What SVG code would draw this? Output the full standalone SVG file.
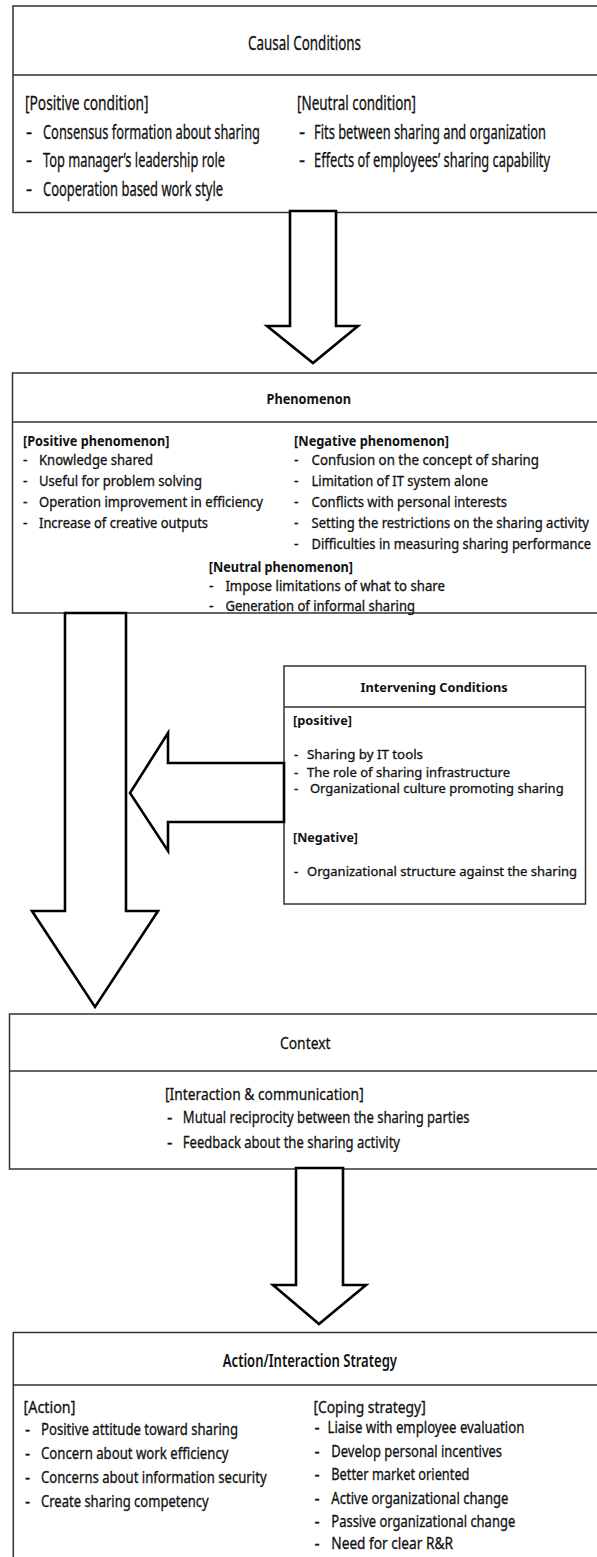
<svg xmlns="http://www.w3.org/2000/svg" width="597" height="1557" viewBox="0 0 597 1557">
<style>
text{font-family:"Noto Sans","Liberation Sans",sans-serif;fill:#111;stroke:#111;stroke-width:0.3}
.box{fill:#fff;stroke:#333;stroke-width:1.5}
.div{stroke:#333;stroke-width:1.5}
.arr{fill:#fff;stroke:#000;stroke-width:2.6;stroke-linejoin:miter}
.c{font-size:19px}
.p{font-size:14px}
.i{font-size:13px}
.x{font-size:17px}
.a{font-size:16px}
.b{font-weight:bold;stroke-width:0}
.sb{font-weight:600;stroke-width:0}
</style>
<rect width="597" height="1557" fill="#fff"/>
<g id="causal">
<rect class="box" x="13" y="6" width="600" height="206.5"/>
<line class="div" x1="13" y1="75" x2="597" y2="75"/>
<text class="c" x="248" y="50" textLength="113" lengthAdjust="spacingAndGlyphs">Causal Conditions</text>
<text class="c" x="25" y="110" textLength="123.5" lengthAdjust="spacingAndGlyphs">[Positive condition]</text>
<text class="c" x="26" y="138.5">-</text>
<text class="c" x="43" y="138.5" textLength="217" lengthAdjust="spacingAndGlyphs">Consensus formation about sharing</text>
<text class="c" x="26" y="167">-</text>
<text class="c" x="43" y="167" textLength="182" lengthAdjust="spacingAndGlyphs">Top manager’s leadership role</text>
<text class="c" x="26" y="195.5">-</text>
<text class="c" x="43" y="195.5" textLength="180" lengthAdjust="spacingAndGlyphs">Cooperation based work style</text>
<text class="c" x="297" y="110" textLength="119" lengthAdjust="spacingAndGlyphs">[Neutral condition]</text>
<text class="c" x="299" y="138.5">-</text>
<text class="c" x="314" y="138.5" textLength="232" lengthAdjust="spacingAndGlyphs">Fits  between sharing and organization</text>
<text class="c" x="299" y="167">-</text>
<text class="c" x="314" y="167" textLength="236" lengthAdjust="spacingAndGlyphs">Effects of employees’ sharing capability</text>
</g>
<g id="phenomenon">
<rect class="box" x="12.5" y="373" width="600" height="240"/>
<line class="div" x1="12.5" y1="422" x2="597" y2="422"/>
<text class="p b" x="266.6" y="404" textLength="84.4" lengthAdjust="spacingAndGlyphs">Phenomenon</text>
<text class="p b" x="23" y="446" textLength="146.5" lengthAdjust="spacingAndGlyphs">[Positive phenomenon]</text>
<text class="p" x="23" y="465">-</text>
<text class="p" x="39" y="465" textLength="114" lengthAdjust="spacingAndGlyphs">Knowledge shared</text>
<text class="p" x="23" y="486">-</text>
<text class="p" x="39" y="486" textLength="163" lengthAdjust="spacingAndGlyphs">Useful for problem solving</text>
<text class="p" x="23" y="507">-</text>
<text class="p" x="39" y="507" textLength="224" lengthAdjust="spacingAndGlyphs">Operation improvement in efficiency</text>
<text class="p" x="23" y="528">-</text>
<text class="p" x="39" y="528" textLength="169" lengthAdjust="spacingAndGlyphs">Increase of creative outputs</text>
<text class="p b" x="294" y="446" textLength="155" lengthAdjust="spacingAndGlyphs">[Negative phenomenon]</text>
<text class="p" x="294" y="465">-</text>
<text class="p" x="311.5" y="465" textLength="227.5" lengthAdjust="spacingAndGlyphs">Confusion on the concept of sharing</text>
<text class="p" x="294" y="486">-</text>
<text class="p" x="311.5" y="486" textLength="176.5" lengthAdjust="spacingAndGlyphs">Limitation  of IT system alone</text>
<text class="p" x="294" y="507">-</text>
<text class="p" x="311.5" y="507" textLength="195.5" lengthAdjust="spacingAndGlyphs">Conflicts with personal interests</text>
<text class="p" x="294" y="528">-</text>
<text class="p" x="311.5" y="528" textLength="277.5" lengthAdjust="spacingAndGlyphs">Setting the restrictions on the sharing activity</text>
<text class="p" x="294" y="549">-</text>
<text class="p" x="311.5" y="549" textLength="279.5" lengthAdjust="spacingAndGlyphs">Difficulties  in measuring sharing performance</text>
<text class="p b" x="208.7" y="572" textLength="144.3" lengthAdjust="spacingAndGlyphs">[Neutral phenomenon]</text>
<text class="p" x="209" y="591">-</text>
<text class="p" x="225.4" y="591" textLength="219.6" lengthAdjust="spacingAndGlyphs">Impose limitations  of what to share</text>
<text class="p" x="209" y="611">-</text>
<text class="p" x="225.4" y="611" textLength="189.6" lengthAdjust="spacingAndGlyphs">Generation of informal sharing</text>
</g>
<g id="intervening">
<rect class="box" x="284" y="666" width="301.5" height="238"/>
<line class="div" x1="284" y1="707" x2="585.5" y2="707"/>
<text class="i b" x="360.6" y="692" textLength="147" lengthAdjust="spacingAndGlyphs">Intervening Conditions</text>
<text class="i b" x="293" y="725" textLength="59" lengthAdjust="spacingAndGlyphs">[positive]</text>
<text class="i" x="294" y="759">-</text>
<text class="i" x="307" y="759" textLength="116" lengthAdjust="spacingAndGlyphs">Sharing by IT tools</text>
<text class="i" x="294" y="777">-</text>
<text class="i" x="307" y="777" textLength="203" lengthAdjust="spacingAndGlyphs">The role of sharing infrastructure</text>
<text class="i" x="294" y="793">-</text>
<text class="i" x="310" y="793" textLength="253.6" lengthAdjust="spacingAndGlyphs">Organizational culture promoting sharing</text>
<text class="i b" x="293" y="842" textLength="65" lengthAdjust="spacingAndGlyphs">[Negative]</text>
<text class="i" x="294" y="876">-</text>
<text class="i" x="307" y="876" textLength="270" lengthAdjust="spacingAndGlyphs">Organizational structure against the sharing</text>
</g>
<g id="context">
<rect class="box" x="9.5" y="1014" width="600" height="155"/>
<line class="div" x1="9.5" y1="1071" x2="597" y2="1071"/>
<text class="x" x="280" y="1049" textLength="50.5" lengthAdjust="spacingAndGlyphs">Context</text>
<text class="x" x="165" y="1100" textLength="198.7" lengthAdjust="spacingAndGlyphs">[Interaction &amp; communication]</text>
<text class="x" x="167" y="1123">-</text>
<text class="x" x="182.8" y="1123" textLength="286.7" lengthAdjust="spacingAndGlyphs">Mutual reciprocity between the sharing parties</text>
<text class="x" x="167" y="1148">-</text>
<text class="x" x="182.8" y="1148" textLength="217.2" lengthAdjust="spacingAndGlyphs">Feedback about the sharing activity</text>
</g>
<g id="action">
<rect class="box" x="13.3" y="1332.5" width="600" height="240"/>
<line class="div" x1="13.3" y1="1385" x2="597" y2="1385"/>
<text class="x sb" x="222.8" y="1367" textLength="174.2" lengthAdjust="spacingAndGlyphs">Action/Interaction Strategy</text>
<text class="a" x="23.6" y="1413" textLength="51.8" lengthAdjust="spacingAndGlyphs">[Action]</text>
<text class="a" x="25" y="1435">-</text>
<text class="a" x="41" y="1435" textLength="197" lengthAdjust="spacingAndGlyphs">Positive attitude toward sharing</text>
<text class="a" x="25" y="1459">-</text>
<text class="a" x="41" y="1459" textLength="187.5" lengthAdjust="spacingAndGlyphs">Concern about work efficiency</text>
<text class="a" x="25" y="1483">-</text>
<text class="a" x="41" y="1483" textLength="225.6" lengthAdjust="spacingAndGlyphs">Concerns about information security</text>
<text class="a" x="25" y="1507">-</text>
<text class="a" x="41" y="1507" textLength="167.7" lengthAdjust="spacingAndGlyphs">Create sharing competency</text>
<text class="a" x="313.4" y="1413" textLength="112.3" lengthAdjust="spacingAndGlyphs">[Coping strategy]</text>
<text class="a" x="314.5" y="1433">-</text>
<text class="a" x="327.5" y="1433" textLength="196.9" lengthAdjust="spacingAndGlyphs">Liaise with employee evaluation</text>
<text class="a" x="314.5" y="1457">-</text>
<text class="a" x="331.3" y="1457" textLength="170.7" lengthAdjust="spacingAndGlyphs">Develop personal incentives</text>
<text class="a" x="314.5" y="1480">-</text>
<text class="a" x="331.3" y="1480" textLength="138.2" lengthAdjust="spacingAndGlyphs">Better market oriented</text>
<text class="a" x="314.5" y="1503.5">-</text>
<text class="a" x="331.3" y="1503.5" textLength="177.1" lengthAdjust="spacingAndGlyphs">Active organizational change</text>
<text class="a" x="314.5" y="1527">-</text>
<text class="a" x="331.3" y="1527" textLength="183.9" lengthAdjust="spacingAndGlyphs">Passive organizational change</text>
<text class="a" x="314.5" y="1549">-</text>
<text class="a" x="331.3" y="1549" textLength="121.7" lengthAdjust="spacingAndGlyphs">Need for clear R&amp;R</text>
</g>
<g id="connectors">
<path class="arr" d="M290,211 L336,211 L336,326 L358,326 L313,363 L267,326 L290,326 Z"/>
<path class="arr" d="M65,613 L126,613 L126,911 L158,911 L95,1007 L32,911 L65,911 Z"/>
<path class="arr" d="M284,763 L168,763 L168,733 L130,793 L168,851 L168,822 L284,822 Z"/>
<path class="arr" d="M296,1168 L343,1168 L343,1285 L366,1285 L319,1324 L273,1285 L296,1285 Z"/>
</g>
</svg>
